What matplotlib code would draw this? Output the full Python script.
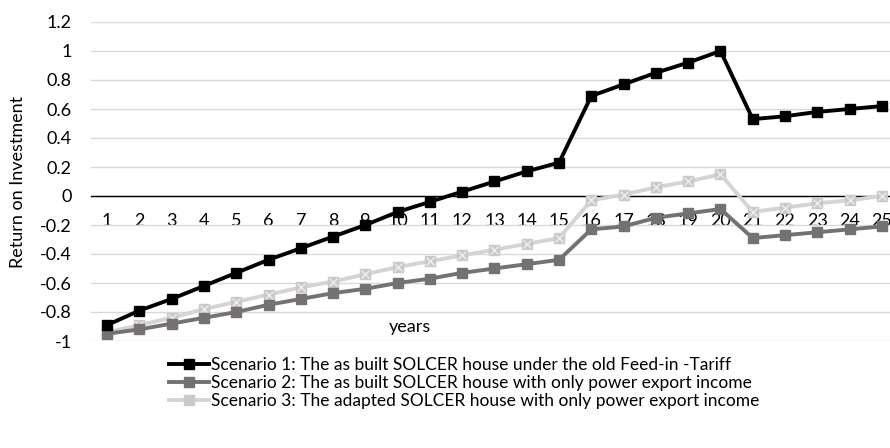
import matplotlib
matplotlib.use("Agg")
import matplotlib.pyplot as plt
import numpy as np

plt.rcParams["font.family"] = ["Lato", "DejaVu Sans"]

years = list(range(1, 26))
scenario1 = [-0.89, -0.79, -0.71, -0.62, -0.53, -0.44, -0.36, -0.28, -0.20, -0.11,
             -0.04, 0.03, 0.10, 0.17, 0.23, 0.69, 0.77, 0.85, 0.92, 1.00,
             0.53, 0.55, 0.58, 0.60, 0.62]
scenario2 = [-0.95, -0.92, -0.88, -0.84, -0.80, -0.75, -0.71, -0.67, -0.64, -0.60,
             -0.57, -0.53, -0.50, -0.47, -0.44, -0.23, -0.21, -0.15, -0.12, -0.09,
             -0.29, -0.27, -0.25, -0.23, -0.21]
scenario3 = [-0.94, -0.89, -0.84, -0.78, -0.73, -0.68, -0.63, -0.59, -0.54, -0.49,
             -0.45, -0.41, -0.37, -0.33, -0.29, -0.03, 0.01, 0.06, 0.10, 0.15,
             -0.11, -0.08, -0.05, -0.03, 0.00]
labels = [
    "Scenario 1: The as built SOLCER house under the old Feed-in -Tariff",
    "Scenario 2: The as built SOLCER house with only power export income",
    "Scenario 3: The adapted SOLCER house with only power export income",
]
yticks = [-1, -0.8, -0.6, -0.4, -0.2, 0, 0.2, 0.4, 0.6, 0.8, 1, 1.2]
ytick_labels = ["-1", "-0.8", "-0.6", "-0.4", "-0.2", "0", "0.2", "0.4", "0.6", "0.8", "1", "1.2"]

fig = plt.figure(figsize=(8.9, 4.48), dpi=100)
ax = fig.add_axes([91 / 890, (448 - 341) / 448, 807 / 890, 319 / 448])

x = np.array(years)
ax.plot(x, scenario1, color="black", lw=2.8, marker="s", ms=7.5, zorder=5, label=labels[0])
ax.plot(x, scenario2, color="#767171", lw=2.8, marker="s", ms=7.5, zorder=4, label=labels[1])
ax.plot(x, scenario3, color="#D5D3D3", lw=2.8, marker="s", ms=7.5, mfc="#C9C9C9",
        mec="#C9C9C9", zorder=3, label=labels[2])
ax.plot(x, scenario3, ls="none", marker="x", ms=6, mew=1.0, color="#EDEDED", zorder=3.5)

ax.set_xlim(0.5, 25.5)
ax.set_ylim(-1, 1.2)
ax.set_yticks(yticks)
ax.set_yticklabels(ytick_labels)
ax.set_xticks(x)
ax.set_xticklabels([str(v) for v in years])

for s in ["top", "right", "left"]:
    ax.spines[s].set_visible(False)
ax.spines["bottom"].set_position(("data", 0))
ax.spines["bottom"].set_color("black")
ax.spines["bottom"].set_linewidth(1.0)
ax.spines["bottom"].set_zorder(2)

ax.grid(axis="y", color="#D9D9D9", lw=1.0)
ax.set_axisbelow(True)
ax.tick_params(axis="x", length=0, pad=12, labelsize=13)
ax.tick_params(axis="y", length=0, pad=14, labelsize=13)

ax.set_ylabel("Return on Investment", fontsize=13, labelpad=10)
fig.text(410 / 890, 1 - 327 / 448, "years", ha="center", va="center", fontsize=13)

leg = fig.legend(loc="upper left", bbox_to_anchor=(162 / 890, 1 - 350 / 448),
                 frameon=False, fontsize=12.5, handlelength=2.3, handletextpad=0.1,
                 labelspacing=0.12, borderaxespad=0)

fig.savefig("out.png", dpi=100)
